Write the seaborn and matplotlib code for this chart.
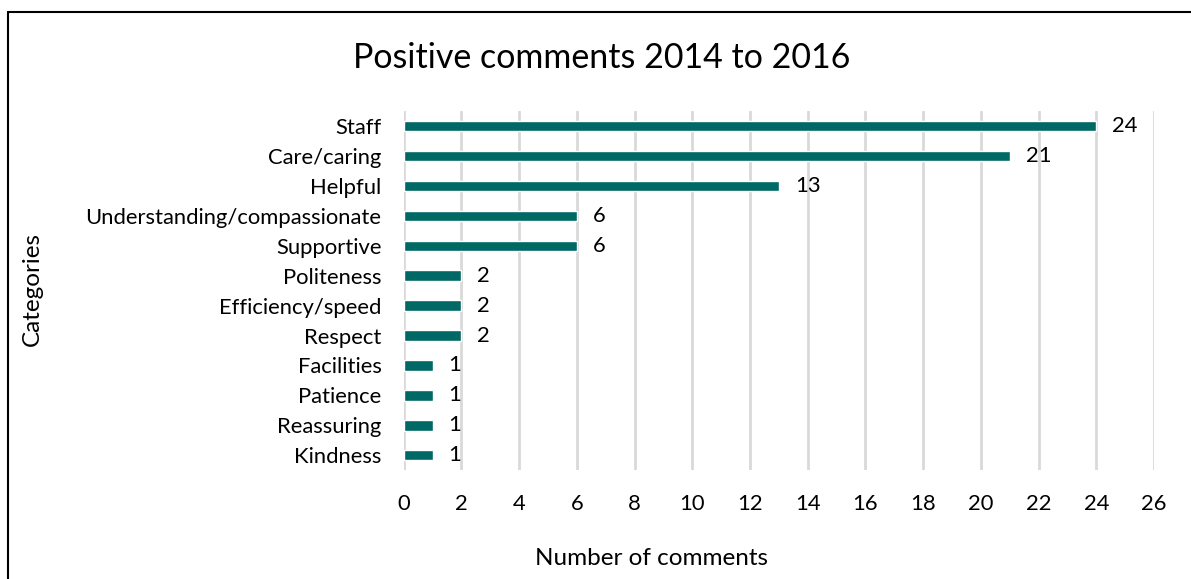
import matplotlib
matplotlib.use("Agg")
import matplotlib.pyplot as plt
import seaborn as sns
import pandas as pd
from matplotlib.lines import Line2D

categories = ["Staff", "Care/caring", "Helpful", "Understanding/compassionate",
              "Supportive", "Politeness", "Efficiency/speed", "Respect",
              "Facilities", "Patience", "Reassuring", "Kindness"]
counts = [24, 21, 13, 6, 6, 2, 2, 2, 1, 1, 1, 1]
x_ticks = list(range(0, 27, 2))

sns.set_theme(style="white")
plt.rcParams["font.family"] = ["Lato", "DejaVu Sans"]
plt.rcParams["text.color"] = "black"

df = pd.DataFrame({"category": categories, "count": counts})

fig = plt.figure(figsize=(11.91, 5.79), dpi=100)
ax = fig.add_axes([0.339, 0.188, 0.630, 0.620])

sns.barplot(data=df, x="count", y="category", orient="h", color="#006965",
            saturation=1, width=0.35, ax=ax, zorder=3)

ax.set_xlim(0, 26)
ax.set_ylim(len(categories) - 0.5, -0.5)
ax.set_xticks(x_ticks)
ax.xaxis.grid(True, color="#d9d9d9", linewidth=2, zorder=0)
ax.yaxis.grid(False)
for s in ax.spines.values():
    s.set_visible(False)
ax.tick_params(axis="both", length=0, labelsize=15.8, colors="black")
ax.tick_params(axis="x", pad=17)
ax.tick_params(axis="y", pad=16)

for bar, v in zip(ax.patches, counts):
    ax.text(bar.get_width() + 0.55, bar.get_y() + bar.get_height() / 2, str(v),
            va="center", ha="left", fontsize=15.8, color="black")

ax.set_xlabel("")
ax.set_ylabel("")
fig.text(0.547, 0.036, "Number of comments", ha="center", va="center",
         fontsize=17.5, color="black")
fig.text(0.027, 0.50, "Categories", ha="center", va="center", rotation=90,
         fontsize=17.5, color="black")
fig.text(0.505, 0.90, "Positive comments 2014 to 2016", ha="center", va="center",
         fontsize=24.5, color="black")

# chart frame
fig.add_artist(Line2D([0.0065, 0.0065], [0.0, 0.979], transform=fig.transFigure,
                      color="black", linewidth=1.5))
fig.add_artist(Line2D([0.0065, 1.0], [0.979, 0.979], transform=fig.transFigure,
                      color="black", linewidth=1.5))

fig.savefig("out.png", dpi=100)
